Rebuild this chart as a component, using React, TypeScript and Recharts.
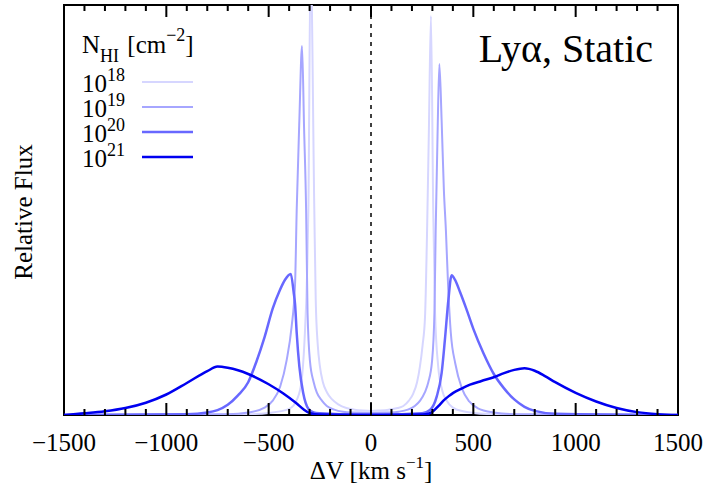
import { LineChart, Line, XAxis, YAxis, ReferenceLine, ReferenceArea } from 'recharts'

// N_HI = 10^18
const v18 = [-1500, -600, -500, -400, -360, -340, -325, -312, -306, -295, -277, -270, -260, -250, -235, -215, -190, -160, -120, -80, -40, 0, 40, 86, 130, 158, 185, 207, 225, 239, 252, 264, 274, 283, 293, 304, 313, 328, 348, 370, 400, 450, 500, 600, 1500]
const f18 = [0, 0.002, 0.005, 0.015, 0.04, 0.08, 0.18, 0.35, 0.5, 1.12, 0.5, 0.28, 0.17, 0.12, 0.08, 0.055, 0.038, 0.026, 0.017, 0.013, 0.011, 0.01, 0.011, 0.013, 0.017, 0.022, 0.035, 0.053, 0.08, 0.118, 0.17, 0.24, 0.45, 0.7, 0.973, 0.5, 0.25, 0.12, 0.06, 0.035, 0.018, 0.009, 0.005, 0.002, 0]

// N_HI = 10^19
const v19 = [-1500, -700, -600, -520, -480, -444, -412, -388, -371, -363, -350, -337, -327, -317, -310, -298, -280, -265, -240, -216, -180, -137, -80, 0, 80, 135, 180, 214, 240, 263, 280, 298, 310, 316, 325, 334, 345, 356, 366, 378, 390, 412, 444, 480, 520, 600, 700, 1500]
const f19 = [0, 0.002, 0.006, 0.018, 0.035, 0.069, 0.134, 0.215, 0.32, 0.5, 0.72, 0.9, 0.7, 0.5, 0.25, 0.13, 0.08, 0.055, 0.035, 0.022, 0.013, 0.008, 0.006, 0.005, 0.006, 0.008, 0.013, 0.022, 0.035, 0.055, 0.08, 0.13, 0.25, 0.45, 0.68, 0.856, 0.72, 0.55, 0.45, 0.3, 0.2, 0.125, 0.065, 0.033, 0.017, 0.006, 0.002, 0]

// N_HI = 10^20
const v20 = [-1500, -900, -800, -750, -700, -650, -600, -560, -520, -480, -445, -420, -392, -378, -371, -363, -350, -331, -306, -280, -250, -150, 0, 150, 250, 288, 321, 345, 361, 378, 394, 410, 435, 465, 500, 550, 600, 650, 700, 750, 800, 900, 1500]
const f20 = [0, 0.002, 0.006, 0.012, 0.025, 0.048, 0.08, 0.13, 0.19, 0.26, 0.305, 0.33, 0.344, 0.3, 0.27, 0.2, 0.118, 0.053, 0.015, 0.006, 0.004, 0.002, 0.002, 0.002, 0.004, 0.012, 0.045, 0.102, 0.183, 0.28, 0.341, 0.33, 0.3, 0.26, 0.21, 0.15, 0.1, 0.065, 0.038, 0.02, 0.01, 0.003, 0]

// N_HI = 10^21
const v21 = [-1500, -1400, -1300, -1200, -1100, -1000, -900, -800, -750, -700, -650, -600, -500, -430, -363, -330, -300, -250, 0, 250, 280, 305, 330, 354, 380, 402, 440, 484, 540, 600, 650, 700, 750, 800, 850, 900, 1000, 1100, 1200, 1300, 1400, 1500]
const f21 = [0, 0.004, 0.009, 0.017, 0.03, 0.05, 0.078, 0.107, 0.118, 0.115, 0.109, 0.1, 0.075, 0.053, 0.028, 0.014, 0.005, 0.001, 0, 0.001, 0.003, 0.01, 0.022, 0.035, 0.046, 0.054, 0.064, 0.074, 0.083, 0.092, 0.102, 0.11, 0.114, 0.108, 0.095, 0.08, 0.054, 0.033, 0.017, 0.007, 0.002, 0]

const xLabels = [-1500, -1000, -500, 0, 500, 1000, 1500]
const xTicks = [-1400, -1300, -1200, -1100, -1000, -900, -800, -700, -600, -500, -400, -300, -200, -100, 0, 100, 200, 300, 400, 500, 600, 700, 800, 900, 1000, 1100, 1200, 1300, 1400]

const legendExp = ['18', '19', '20', '21']
const colors = ['#d6d6ff', '#a6a6ff', '#6868ff', '#0000f0']

const zip = (v: number[], f: number[]) => v.map((x, i) => ({ v: x, f: f[i] }))
const series = [zip(v18, f18), zip(v19, f19), zip(v20, f20), zip(v21, f21)]

const SERIF = '"Liberation Serif", "Times New Roman", serif'
const W = 713
const H = 491
const M = { top: 5, right: 35, left: 64 }
const XAXIS_H = 76
const PLOT_W = W - M.left - M.right
const PLOT_B = H - XAXIS_H
const X_MIN = -1500
const X_MAX = 1500

// same linear map as the x axis, used for the inward tick marks
const sx = (v: number) => M.left + ((v - X_MIN) / (X_MAX - X_MIN)) * PLOT_W

function fmt(v: number) {
  return v < 0 ? '\u2212' + Math.abs(v) : String(v)
}

function XLabel({ x, y, payload }: any) {
  return (
    <text x={x} y={y + 36} textAnchor="middle" fontFamily={SERIF} fontSize={25} fill="#000">
      {fmt(payload.value)}
    </text>
  )
}

export default function App() {
  return (
    <div style={{ position: 'relative', width: W, height: H, background: '#fff' }}>
      <style>{'body{margin:0}'}</style>
      <LineChart width={W} height={H} margin={{ ...M, bottom: 0 }}>
        <XAxis
          dataKey="v"
          type="number"
          domain={[X_MIN, X_MAX]}
          ticks={xLabels}
          interval={0}
          height={XAXIS_H}
          tickSize={0}
          tickMargin={0}
          tickLine={false}
          tick={<XLabel />}
          axisLine={false}
          allowDataOverflow
        />
        <YAxis
          type="number"
          domain={[0, 1]}
          width={0}
          tick={false}
          tickLine={false}
          axisLine={false}
          allowDataOverflow
        />
        <ReferenceLine x={0} stroke="#000" strokeWidth={1.5} strokeDasharray="4 5" />
        {series.map((d, i) => (
          <Line
            key={i}
            data={d}
            dataKey="f"
            type="monotone"
            stroke={colors[i]}
            strokeWidth={i >= 2 ? 2.5 : 2}
            dot={false}
            activeDot={false}
            isAnimationActive={false}
          />
        ))}
        <ReferenceArea
          x1={X_MIN}
          x2={X_MAX}
          y1={0}
          y2={1}
          fill="none"
          fillOpacity={0}
          stroke="#000"
          strokeWidth={2}
          ifOverflow="visible"
        />
      </LineChart>
      <svg
        width={W}
        height={H}
        style={{ position: 'absolute', left: 0, top: 0, pointerEvents: 'none' }}
        fontFamily={SERIF}
        fill="#000"
      >
        {xTicks.map((t) => {
          const len = t % 500 === 0 ? 12 : 6
          const x = sx(t)
          return (
            <g key={t}>
              <rect x={x - 1} y={PLOT_B - len} width={2} height={len} fill="#000" />
              <rect x={x - 1} y={M.top} width={2} height={len} fill="#000" />
            </g>
          )
        })}
        <text transform="translate(32,212) rotate(-90)" textAnchor="middle" fontSize={25}>
          Relative Flux
        </text>
        <text x={371} y={479} textAnchor="middle" fontSize={25}>
          ΔV [km s<tspan dy={-11} fontSize={17}>{'\u22121'}</tspan>
          <tspan dy={11}>]</tspan>
        </text>
        <text x={653} y={62} textAnchor="end" fontSize={40}>
          Lyα, Static
        </text>
        <text x={82} y={53} fontSize={25}>
          N<tspan dy={9} fontSize={18}>HI</tspan>
          <tspan dy={-9} dx={2}> [cm</tspan>
          <tspan dy={-12} fontSize={18}>{'\u22122'}</tspan>
          <tspan dy={12}>]</tspan>
        </text>
        {legendExp.map((e, i) => (
          <g key={e}>
            <text x={82} y={91.5 + i * 25} fontSize={25}>
              10<tspan dy={-11} fontSize={18}>{e}</tspan>
            </text>
            <line x1={142} x2={193} y1={82 + i * 25} y2={82 + i * 25} stroke={colors[i]} strokeWidth={i >= 2 ? 2.5 : 2} />
          </g>
        ))}
      </svg>
    </div>
  )
}
